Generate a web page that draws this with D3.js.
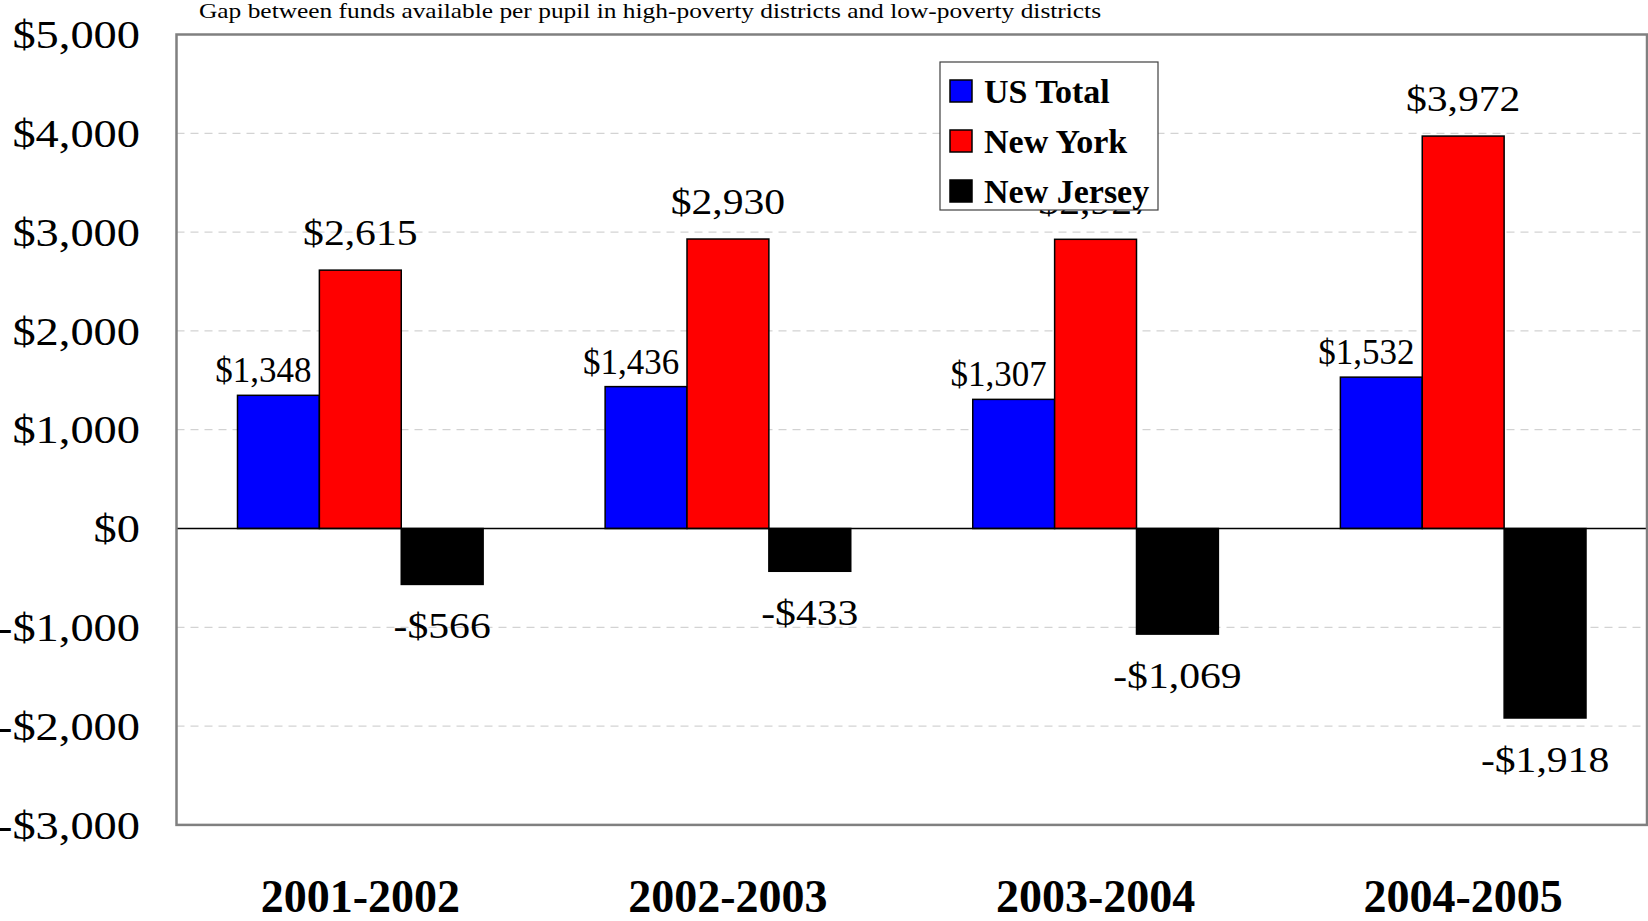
<!DOCTYPE html>
<html>
<head>
<meta charset="utf-8">
<script src="https://cdn.jsdelivr.net/npm/d3@7"></script>
<style>
  body { margin: 0; background: #fff; }
  svg text { font-family: "Liberation Serif", "Times New Roman", serif; }
</style>
</head>
<body>
<div id="chart"></div>
<script>
// data
var years = ["2001-2002", "2002-2003", "2003-2004", "2004-2005"];
var seriesNames = ["US Total", "New York", "New Jersey"];
var seriesColors = ["#0000ff", "#ff0000", "#000000"];
var usTotal = [1348, 1436, 1307, 1532];
var newYork = [2615, 2930, 2927, 3972];
var newJersey = [-566, -433, -1069, -1918];
var yTicks = [5000, 4000, 3000, 2000, 1000, 0, -1000, -2000, -3000];

var width = 1648, height = 921;
var plot = { left: 176.5, right: 1647, top: 34.5, bottom: 824.9 };
// most regular text in the original is set noticeably wider than Times
var stretch = 1.19;

var svg = d3.select("#chart").append("svg")
    .attr("width", width)
    .attr("height", height);

var y = d3.scaleLinear()
    .domain([-3000, 5000])
    .range([plot.bottom, plot.top]);

var x0 = d3.scaleBand()
    .domain(years)
    .range([plot.left, plot.right]);

// bars occupy the middle of each group, 61px margin each side
var x1 = d3.scaleBand()
    .domain(seriesNames)
    .range([61, x0.bandwidth() - 61]);

var allSeries = [usTotal, newYork, newJersey];

function money(v) {
    return (v < 0 ? "-$" : "$") + d3.format(",")(Math.abs(v));
}

// subtitle
svg.append("text")
    .attr("transform", "translate(199,18) scale(" + (stretch + 0.02) + ",1)")
    .style("font-size", "21px")
    .text("Gap between funds available per pupil in high-poverty districts and low-poverty districts");

// gridlines
svg.append("g")
    .selectAll("line")
    .data(yTicks.filter(function(d) { return d !== 0 && d !== 5000 && d !== -3000; }))
    .enter().append("line")
    .attr("x1", plot.left)
    .attr("x2", plot.right)
    .attr("y1", function(d) { return y(d); })
    .attr("y2", function(d) { return y(d); })
    .attr("stroke", "#c8c8c8")
    .attr("stroke-width", 1)
    .attr("stroke-dasharray", "8,6");

// y axis labels
var yAxis = d3.axisLeft(y)
    .tickValues(yTicks)
    .tickSize(0)
    .tickPadding(0)
    .tickFormat(money);

svg.append("g")
    .attr("transform", "translate(140,0)")
    .call(yAxis)
    .call(function(g) { g.select(".domain").remove(); })
    .selectAll("text")
    .attr("fill", "#000")
    .attr("x", 0)
    .attr("transform", "scale(" + stretch + ",1)")
    .style("font-family", "'Liberation Serif', 'Times New Roman', serif")
    .style("font-size", "39px")
    .attr("dy", "0.34em");

// bars
var groups = svg.append("g")
    .selectAll("g")
    .data(years)
    .enter().append("g")
    .attr("transform", function(d) { return "translate(" + x0(d) + ",0)"; });

function groupData(d, i) {
    return seriesNames.map(function(s, j) { return { series: s, idx: j, value: allSeries[j][i] }; });
}

groups.selectAll("rect")
    .data(groupData)
    .enter().append("rect")
    .attr("x", function(d) { return x1(d.series); })
    .attr("width", x1.bandwidth())
    .attr("y", function(d) { return y(Math.max(0, d.value)); })
    .attr("height", function(d) { return Math.abs(y(d.value) - y(0)); })
    .attr("fill", function(d) { return seriesColors[d.idx]; })
    .attr("stroke", "#000")
    .attr("stroke-width", 1.5);

// value labels (US Total ones are narrower and sit left of centre)
groups.selectAll("text.val")
    .data(groupData)
    .enter().append("text")
    .attr("class", "val")
    .attr("transform", function(d) {
        var cx = x1(d.series) + x1.bandwidth() / 2;
        var sx = stretch;
        if (d.idx === 0) { cx -= 15; sx = 1; }
        var cy = d.value < 0 ? y(d.value) + 42 : y(d.value) - (d.idx === 0 ? 25 : 37);
        return "translate(" + cx + "," + cy + ") scale(" + sx + ",1)";
    })
    .attr("dy", "0.34em")
    .attr("text-anchor", "middle")
    .style("font-size", "35px")
    .text(function(d) { return money(d.value); });

// zero line
svg.append("line")
    .attr("x1", plot.left)
    .attr("x2", plot.right)
    .attr("y1", y(0))
    .attr("y2", y(0))
    .attr("stroke", "#000")
    .attr("stroke-width", 1.5);

// plot frame
svg.append("rect")
    .attr("x", plot.left)
    .attr("y", plot.top)
    .attr("width", plot.right - plot.left)
    .attr("height", plot.bottom - plot.top)
    .attr("fill", "none")
    .attr("stroke", "#808080")
    .attr("stroke-width", 2.5);

// category labels
svg.append("g")
    .selectAll("text")
    .data(years)
    .enter().append("text")
    .attr("x", function(d) { return x0(d) + x0.bandwidth() / 2; })
    .attr("y", 912)
    .attr("text-anchor", "middle")
    .style("font-size", "46px")
    .style("font-weight", "bold")
    .text(function(d) { return d; });

// legend (drawn last, it sits over one of the labels as in the original)
var legend = svg.append("g").attr("transform", "translate(940,62)");
legend.append("rect")
    .attr("width", 218)
    .attr("height", 148)
    .attr("fill", "#fff")
    .attr("stroke", "#404040")
    .attr("stroke-width", 1.2);

var items = legend.selectAll("g.item")
    .data(seriesNames)
    .enter().append("g")
    .attr("class", "item")
    .attr("transform", function(d, i) { return "translate(10," + (29 + i * 50) + ")"; });

items.append("rect")
    .attr("x", 0)
    .attr("y", -11)
    .attr("width", 22)
    .attr("height", 22)
    .attr("fill", function(d, i) { return seriesColors[i]; })
    .attr("stroke", "#000")
    .attr("stroke-width", 1.5);

items.append("text")
    .attr("x", 34)
    .attr("y", 0)
    .attr("dy", "0.34em")
    .style("font-size", "34px")
    .style("font-weight", "bold")
    .text(function(d) { return d; });
</script>
</body>
</html>
